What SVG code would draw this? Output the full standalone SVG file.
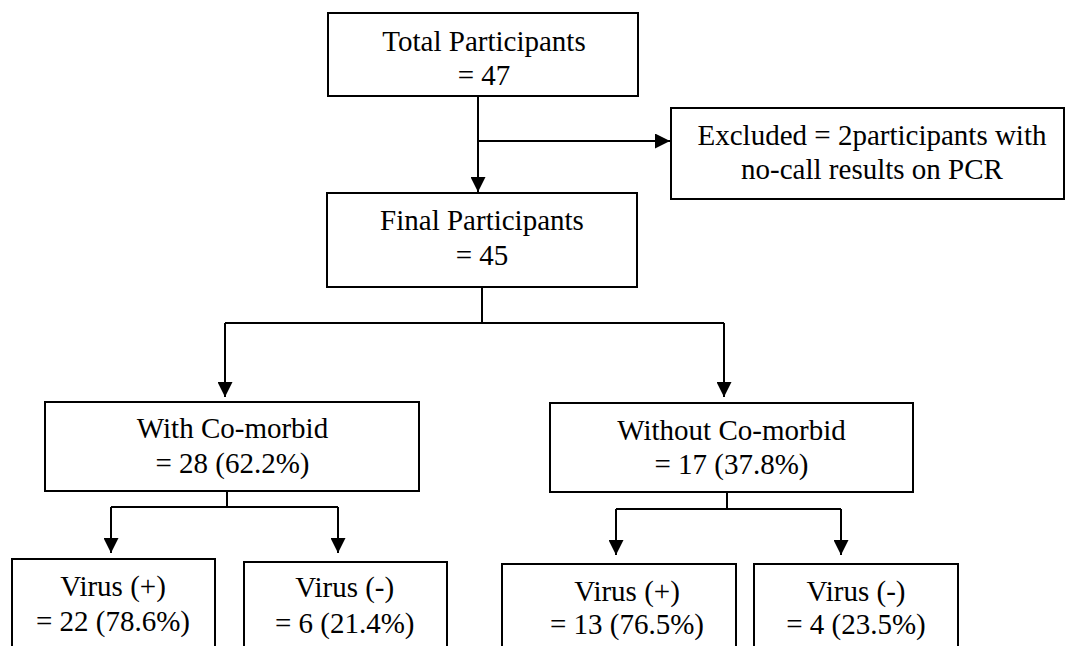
<svg xmlns="http://www.w3.org/2000/svg" width="1065" height="646" viewBox="0 0 1065 646">
<style>
.box{fill:#fff;stroke:#000;stroke-width:2}
.t{font-family:'Liberation Serif','Times New Roman',serif;font-size:29px;fill:#000;text-anchor:middle}
.c{fill:none;stroke:#000;stroke-width:2}
</style>
<defs>
<marker id="ah" markerUnits="userSpaceOnUse" markerWidth="15" markerHeight="15" refX="15" refY="7.5" orient="auto">
<path d="M0,0 L15,7.5 L0,15 Z" fill="#000"/>
</marker>
</defs>
<rect width="1065" height="646" fill="#fff"/>
<g id="connectors">
<path class="c" d="M478,96 V192" marker-end="url(#ah)"/>
<path class="c" d="M478,141 H670" marker-end="url(#ah)"/>
<path class="c" d="M482,287 V323"/>
<path class="c" d="M225,323 H724"/>
<path class="c" d="M225,323 V397" marker-end="url(#ah)"/>
<path class="c" d="M724,323 V397" marker-end="url(#ah)"/>
<path class="c" d="M227,491 V507"/>
<path class="c" d="M111,507 H338"/>
<path class="c" d="M111,507 V553" marker-end="url(#ah)"/>
<path class="c" d="M338,507 V553" marker-end="url(#ah)"/>
<path class="c" d="M727,492 V509"/>
<path class="c" d="M616,509 H841"/>
<path class="c" d="M616,509 V555" marker-end="url(#ah)"/>
<path class="c" d="M841,509 V555" marker-end="url(#ah)"/>
</g>
<g id="total">
<rect class="box" x="328" y="13" width="310" height="83"/>
<text class="t" x="484" y="50.7">Total Participants</text>
<text class="t" x="484" y="85">= 47</text>
</g>
<g id="excluded">
<rect class="box" x="671" y="108" width="393" height="91"/>
<text class="t" x="872" y="145">Excluded = 2participants with</text>
<text class="t" x="872" y="179.3">no-call results on PCR</text>
</g>
<g id="final">
<rect class="box" x="327" y="193" width="310" height="94"/>
<text class="t" x="482" y="230">Final Participants</text>
<text class="t" x="482" y="265">= 45</text>
</g>
<g id="with">
<rect class="box" x="45" y="402" width="374" height="89"/>
<text class="t" x="232.5" y="438.3">With Co-morbid</text>
<text class="t" x="232.5" y="472.7">= 28 (62.2%)</text>
</g>
<g id="without">
<rect class="box" x="550" y="403" width="363" height="89"/>
<text class="t" x="731.5" y="440">Without Co-morbid</text>
<text class="t" x="731.5" y="474">= 17 (37.8%)</text>
</g>
<g id="with-pos">
<rect class="box" x="12" y="559" width="203" height="100"/>
<text class="t" x="113" y="596">Virus (+)</text>
<text class="t" x="113" y="630.7">= 22 (78.6%)</text>
</g>
<g id="with-neg">
<rect class="box" x="244" y="562" width="203" height="100"/>
<text class="t" x="344.7" y="597">Virus (-)</text>
<text class="t" x="344.7" y="632.7">= 6 (21.4%)</text>
</g>
<g id="without-pos">
<rect class="box" x="502" y="564" width="234" height="100"/>
<text class="t" x="627" y="600.7">Virus (+)</text>
<text class="t" x="627" y="634">= 13 (76.5%)</text>
</g>
<g id="without-neg">
<rect class="box" x="754" y="564" width="204" height="100"/>
<text class="t" x="856" y="600.7">Virus (-)</text>
<text class="t" x="856" y="634">= 4 (23.5%)</text>
</g>
</svg>
